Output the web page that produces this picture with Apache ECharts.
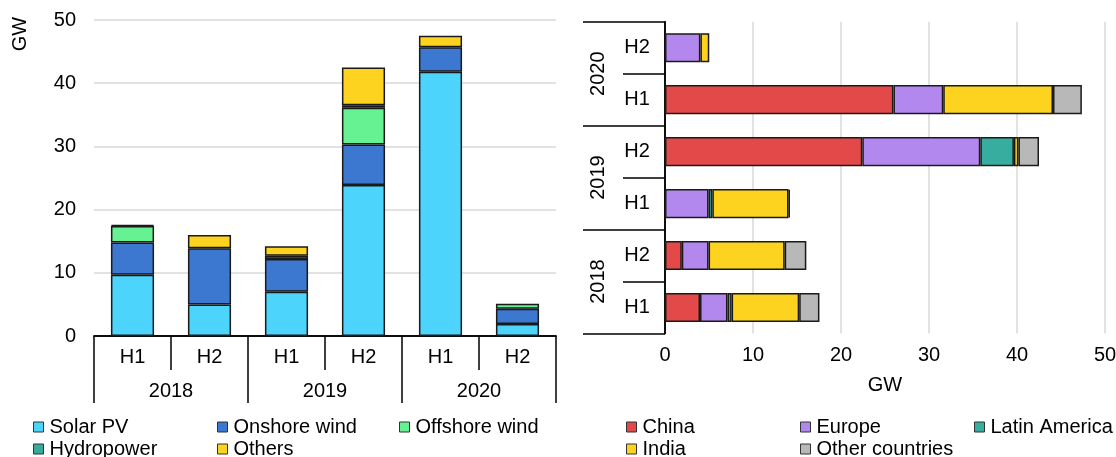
<!DOCTYPE html>
<html><head><meta charset="utf-8">
<script src="https://cdn.jsdelivr.net/npm/echarts@6/dist/echarts.min.js"></script>
<style>html,body{margin:0;padding:0;background:#fff}#c{width:1116px;height:457px}</style>
</head><body><div id="c"></div><script>
// ---- categories ----
const halves = ['H1', 'H2', 'H1', 'H2', 'H1', 'H2'];
const years = ['2018', '2019', '2020'];
const valueTicks = [0, 10, 20, 30, 40, 50];

// ---- left chart: by technology (2018H1..2020H2) ----
const solarPV      = [9.7, 5.0, 7.0, 23.9, 41.8, 1.9];
const onshoreWind  = [5.1, 8.9, 5.2, 6.4, 3.9, 2.4];
const offshoreWind = [2.6, null, 0.5, 5.8, null, 0.8];
const hydropower   = [null, null, null, 0.4, null, null];
const othersTech   = [0.15, 2.1, 1.5, 6.0, 1.8, null];

// ---- right chart: by region (bottom 2018H1 .. top 2020H2) ----
const china        = [3.98, 1.91, null, 22.42, 25.96, null];
const europe       = [3.12, 3.04, 4.95, 13.41, 5.66, 4.02];
const latinAmerica = [0.47, null, 0.43, 3.82, null, null];
const india        = [7.68, 8.65, 8.66, 0.51, 12.47, 1.01];
const otherCountries = [2.3, 2.46, 0.15, 2.34, 3.28, null];

const FONT = 'Liberation Sans, Arial, sans-serif';
const TXT = '#000';
const BORDER = '#1a1a1a';

function barSeries(name, data, color, xi, yi, stack) {
  return {
    type: 'bar', name, data, stack,
    xAxisIndex: xi, yAxisIndex: yi,
    barWidth: '56%',
    itemStyle: { color, borderColor: BORDER, borderWidth: 1.5 },
    emphasis: { disabled: true },
    animation: false
  };
}

function leg(name, left, top) {
  return {
    data: [name], left, top, padding: 0, orient: 'horizontal',
    icon: 'rect', itemWidth: 10, itemHeight: 10, selectedMode: false,
    itemStyle: { borderColor: '#333', borderWidth: 1 },
    textStyle: { fontSize: 20, color: TXT, fontFamily: FONT, padding: [0, 0, 0, 1] }
  };
}

const tick = (len) => ({ show: true, length: len, interval: 0, lineStyle: { color: '#000', width: 1.5 } });
const line = { show: true, lineStyle: { color: '#000', width: 1.5 } };

const chart = echarts.init(document.getElementById('c'), null, { renderer: 'canvas' });
chart.setOption({
  animation: false,
  textStyle: { fontFamily: FONT },
  grid: [
    { left: 94, right: 560, top: 20, bottom: 121, outerBoundsMode: 'none', containLabel: false },
    { left: 665, right: 11, top: 21.7, bottom: 123.5, outerBoundsMode: 'none', containLabel: false }
  ],
  xAxis: [
    { type: 'category', gridIndex: 0, data: halves, position: 'bottom',
      axisLine: line, axisTick: tick(34),
      axisLabel: { fontSize: 20, color: TXT, margin: 11, interval: 0, fontFamily: FONT } },
    { type: 'category', gridIndex: 0, data: years, position: 'bottom',
      axisLine: line, axisTick: tick(67),
      axisLabel: { fontSize: 20, color: TXT, margin: 45, interval: 0, fontFamily: FONT } },
    { type: 'value', gridIndex: 1, min: 0, max: 50, interval: 10, position: 'bottom',
      axisLine: { show: false }, axisTick: { show: false },
      splitLine: { show: true, lineStyle: { color: '#d9d9d9', width: 1.5 } },
      axisLabel: { fontSize: 20, color: TXT, margin: 12, fontFamily: FONT },
      name: 'GW', nameLocation: 'middle', nameGap: 42,
      nameTextStyle: { fontSize: 20, color: TXT, fontFamily: FONT } }
  ],
  yAxis: [
    { type: 'value', gridIndex: 0, min: 0, max: 50, interval: 10, position: 'left',
      axisLine: { show: false }, axisTick: { show: false },
      splitLine: { show: true, lineStyle: { color: '#d9d9d9', width: 1.5 } },
      axisLabel: { fontSize: 20, color: TXT, margin: 18, fontFamily: FONT } },
    { type: 'category', gridIndex: 1, data: halves, position: 'left',
      axisLine: line, axisTick: tick(42),
      axisLabel: { fontSize: 20, color: TXT, margin: 28, align: 'center', interval: 0, fontFamily: FONT } },
    { type: 'category', gridIndex: 1, data: years, position: 'left',
      axisLine: line, axisTick: tick(82),
      axisLabel: { fontSize: 20, color: TXT, margin: 57, rotate: 90, interval: 0, fontFamily: FONT } }
  ],
  graphic: [
    { type: 'text', x: 20, y: 34, rotation: Math.PI / 2,
      style: { text: 'GW', fontSize: 20, fill: TXT, fontFamily: FONT, align: 'center', verticalAlign: 'middle' } }
  ],
  legend: [
    leg('Solar PV', 33, 417), leg('Onshore wind', 217, 417), leg('Offshore wind', 399, 417),
    leg('Hydropower', 33, 439), leg('Others', 217, 439),
    leg('China', 626, 417), leg('Europe', 800, 417), leg('Latin America', 974, 417),
    leg('India', 626, 439), leg('Other countries', 800, 439)
  ],
  series: [
    barSeries('Solar PV', solarPV, '#4dd4fd', 0, 0, 'tech'),
    barSeries('Onshore wind', onshoreWind, '#3d78d0', 0, 0, 'tech'),
    barSeries('Offshore wind', offshoreWind, '#66f192', 0, 0, 'tech'),
    barSeries('Hydropower', hydropower, '#36ab9c', 0, 0, 'tech'),
    barSeries('Others', othersTech, '#fdd31f', 0, 0, 'tech'),
    barSeries('China', china, '#e34948', 2, 1, 'reg'),
    barSeries('Europe', europe, '#b388ee', 2, 1, 'reg'),
    barSeries('Latin America', latinAmerica, '#37ad9f', 2, 1, 'reg'),
    barSeries('India', india, '#fdd31f', 2, 1, 'reg'),
    barSeries('Other countries', otherCountries, '#b8b8b8', 2, 1, 'reg')
  ]
});
</script></body></html>
